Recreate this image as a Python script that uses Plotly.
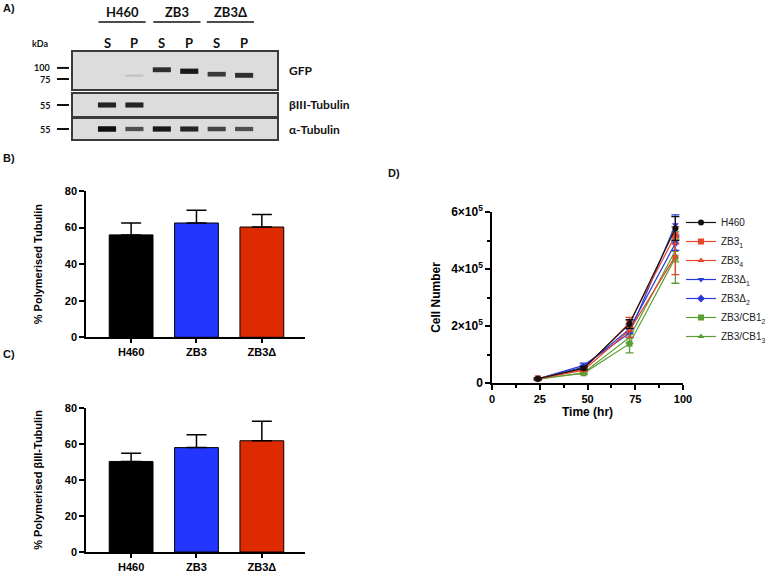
import plotly.graph_objects as go

W, H = 765, 572

# ---------------- data ----------------
# Panel A (western blot, band intensities per lane)
lane_idx = [0, 1, 2, 3, 4, 5]
lane_labels = ["S", "P", "S", "P", "S", "P"]
blot_groups = ["H460", "ZB3", "ZB3Δ"]
blot_group_centers = [0.55, 2.55, 4.5]
gfp_intensity = [0.0, 0.15, 0.85, 0.95, 0.8, 0.85]
gfp_band_pos = [0.38, 0.36, 0.52, 0.48, 0.40, 0.37]
beta3_intensity = [0.9, 0.9, 0.0, 0.0, 0.0, 0.0]
alpha_intensity = [1.0, 0.7, 0.95, 0.9, 0.75, 0.7]
blot_names = ["GFP", "βIII-Tubulin", "α-Tubulin"]

# Panel B / C
bar_cats = ["H460", "ZB3", "ZB3Δ"]
poly_tub = [56.0, 62.5, 60.3]
poly_tub_err = [6.5, 7.0, 6.8]
poly_b3 = [50.3, 58.0, 61.8]
poly_b3_err = [4.5, 7.2, 10.9]
bar_colors = ["#000000", "#2236ff", "#dd2a00"]

# Panel D
time_hr = [24, 48, 72, 96]
growth = {
    "H460": [1.5e4, 5.2e4, 2.07e5, 5.42e5],
    "ZB3<sub>1</sub>": [1.6e4, 4.8e4, 2.12e5, 5.18e5],
    "ZB3<sub>4</sub>": [1.4e4, 4.5e4, 1.85e5, 4.45e5],
    "ZB3Δ<sub>1</sub>": [1.5e4, 6.2e4, 1.75e5, 5.55e5],
    "ZB3Δ<sub>2</sub>": [1.5e4, 5.6e4, 1.9e5, 4.9e5],
    "ZB3/CB1<sub>2</sub>": [1.5e4, 3.4e4, 1.38e5, 4.4e5],
    "ZB3/CB1<sub>3</sub>": [1.3e4, 3.6e4, 1.6e5, 4.65e5],
}
growth_err = {
    "H460": [3e3, 5e3, 1.5e4, 4.2e4],
    "ZB3<sub>1</sub>": [3e3, 4e3, 1.8e4, 3e4],
    "ZB3<sub>4</sub>": [3e3, 4e3, 2.5e4, 6.5e4],
    "ZB3Δ<sub>1</sub>": [3e3, 8e3, 1.5e4, 3.5e4],
    "ZB3Δ<sub>2</sub>": [3e3, 5e3, 1.5e4, 2.5e4],
    "ZB3/CB1<sub>2</sub>": [3e3, 4e3, 3.2e4, 9e4],
    "ZB3/CB1<sub>3</sub>": [3e3, 4e3, 2e4, 4e4],
}
growth_style = {
    "H460": ("#111111", "circle"),
    "ZB3<sub>1</sub>": ("#e8452a", "square"),
    "ZB3<sub>4</sub>": ("#e8452a", "triangle-up"),
    "ZB3Δ<sub>1</sub>": ("#2a3ad8", "triangle-down"),
    "ZB3Δ<sub>2</sub>": ("#2a3ad8", "diamond"),
    "ZB3/CB1<sub>2</sub>": ("#5c9e33", "square"),
    "ZB3/CB1<sub>3</sub>": ("#5c9e33", "triangle-up"),
}
d_yticks = [0, 2e5, 4e5, 6e5]
d_yticktext = ["0", "2×10<sup>5</sup>", "4×10<sup>5</sup>", "6×10<sup>5</sup>"]

# ---------------- helpers ----------------
def px_x(p):
    return p / W

def px_y(p):
    return 1 - p / H

ARIAL = "Liberation Sans, Arial, sans-serif"
BLOTF = "Lato, Open Sans, sans-serif"

fig = go.Figure()

def note(text, x, y, xref="paper", yref="paper", xanchor="center", size=11, family=ARIAL):
    fig.add_annotation(text=text, xref=xref, yref=yref, x=x, y=y, xanchor=xanchor,
                       yanchor="middle", showarrow=False,
                       font=dict(family=family, size=size, color="#111"))

# ---------------- Panel A: blot ----------------
blot_x_dom = [px_x(73), px_x(277)]
blot_y_px = [(52, 89), (94, 116), (119, 139)]
blot_axes = [("x4", "y4"), ("x5", "y5"), ("x6", "y6")]
blot_data = [
    (gfp_intensity, gfp_band_pos),
    (beta3_intensity, [0.5] * 6),
    (alpha_intensity, [0.5] * 6),
]
for (xa, ya), (inten, pos) in zip(blot_axes, blot_data):
    for li, it, yp in zip(lane_idx, inten, pos):
        if it <= 0:
            continue
        shade = int(225 - 210 * it)
        fig.add_trace(go.Scatter(
            x=[li - 0.33, li + 0.33], y=[yp, yp], mode="lines",
            line=dict(color=f"rgb({shade},{shade},{shade})", width=1.5 + 4.0 * it),
            xaxis=xa, yaxis=ya, showlegend=False, hoverinfo="skip"))

for k, (xa, ya) in enumerate(blot_axes):
    n = str(k + 4)
    top, bot = blot_y_px[k]
    fig.update_layout(**{
        f"xaxis{n}": dict(domain=blot_x_dom, range=[-1.24, 6.2], anchor=ya, automargin=False,
                          showticklabels=False, ticks="", showgrid=False, zeroline=False,
                          showline=True, mirror=True, linecolor="#3a3a3a", linewidth=1.5),
        f"yaxis{n}": dict(domain=[px_y(bot), px_y(top)], range=[0, 1], anchor=xa, automargin=False,
                          showticklabels=False, ticks="", showgrid=False, zeroline=False,
                          showline=True, mirror=True, linecolor="#3a3a3a", linewidth=1.5),
    })
    fig.add_shape(type="rect", xref=f"{xa} domain", yref=f"{ya} domain",
                  x0=0, x1=1, y0=0, y1=1, fillcolor="#dcdcdc", line_width=0, layer="below")
    note(f"<b>{blot_names[k]}</b>", px_x(287), px_y((top + bot) / 2), xanchor="left",
         size=12, family=BLOTF)

# lane labels / group labels
for li, lab in zip(lane_idx, lane_labels):
    note(f"<b>{lab}</b>", li, px_y(43), xref="x4", size=13, family=BLOTF)
for gc, g in zip(blot_group_centers, blot_groups):
    note(f"<b>{g}</b>", gc, px_y(12), xref="x4", size=13, family=BLOTF)
    fig.add_shape(type="line", xref="x4", yref="paper", x0=gc - 0.86, x1=gc + 0.86,
                  y0=px_y(22), y1=px_y(22), line=dict(color="#111", width=1.5))

# kDa markers
note("<b>kDa</b>", px_x(40), px_y(43), size=9, family=BLOTF)
kda_marks = [("100", "y4", 0.57), ("75", "y4", 0.27), ("55", "y5", 0.5), ("55", "y6", 0.5)]
for lab, ya, yv in kda_marks:
    fig.add_shape(type="line", xref="paper", yref=ya, x0=px_x(57), x1=px_x(69), y0=yv, y1=yv,
                  line=dict(color="#111", width=2))
    note(f"<b>{lab}</b>", px_x(52), yv, yref=ya, xanchor="right", size=9, family=BLOTF)

# ---------------- Panels B & C ----------------
bar_sets = [
    ("x", "y", poly_tub, poly_tub_err, (191, 337.3), "% Polymerised Tubulin"),
    ("x2", "y2", poly_b3, poly_b3_err, (408, 552), "% Polymerised βIII-Tubulin"),
]
for i, (xa, ya, vals, errs, (ytop, ybot), ttl) in enumerate(bar_sets):
    fig.add_trace(go.Bar(
        x=bar_cats, y=vals, marker=dict(color=bar_colors, line=dict(color="#000", width=1)),
        width=0.67, error_y=dict(type="data", array=errs, arrayminus=[0] * 3, symmetric=False,
                                 color="#000", thickness=1.5, width=10),
        xaxis=xa, yaxis=ya, showlegend=False, hoverinfo="skip"))
    n = "" if i == 0 else "2"
    fig.update_layout(**{
        f"xaxis{n}": dict(domain=[px_x(86), px_x(305)], range=[-0.69, 2.66], anchor=ya,
                          automargin=False, type="category",
                          showline=True, linecolor="#000", linewidth=1.5, ticks="outside",
                          ticklen=4, tickwidth=1.5, tickcolor="#000",
                          tickfont=dict(family=ARIAL, size=11, color="#000", weight="bold"),
                          showgrid=False, zeroline=False),
        f"yaxis{n}": dict(domain=[px_y(ybot), px_y(ytop)], range=[0, 80], anchor=xa,
                          automargin=False,
                          tickvals=[0, 20, 40, 60, 80], showline=True, linecolor="#000",
                          linewidth=1.5, ticks="outside", ticklen=5, tickwidth=1.5,
                          tickcolor="#000", showgrid=False, zeroline=False,
                          tickfont=dict(family=ARIAL, size=11, color="#000", weight="bold"),
                          title=dict(text=ttl, standoff=20,
                                     font=dict(family=ARIAL, size=11, color="#000", weight="bold"))),
    })

# ---------------- Panel D ----------------
names = list(growth.keys())
for rank, nm in reversed(list(enumerate(names))):
    col, sym = growth_style[nm]
    fig.add_trace(go.Scatter(
        x=time_hr, y=growth[nm], name=nm, mode="lines+markers",
        line=dict(color=col, width=1.2), marker=dict(color=col, symbol=sym, size=6),
        error_y=dict(type="data", array=growth_err[nm], color=col, thickness=1.3, width=4),
        xaxis="x3", yaxis="y3", legendrank=rank + 1, cliponaxis=False))

fig.update_layout(
    xaxis3=dict(domain=[px_x(492), px_x(683)], range=[0, 100], anchor="y3", automargin=False,
                tickvals=[0, 25, 50, 75, 100], showline=True, linecolor="#000", linewidth=1.5,
                ticks="outside", ticklen=5, tickwidth=1.5, tickcolor="#000",
                minor=dict(dtick=12.5, tick0=0, ticks="outside", ticklen=3, tickwidth=1.5, tickcolor="#000"),
                tickfont=dict(family=ARIAL, size=11, color="#000", weight="bold"),
                showgrid=False, zeroline=False,
                title=dict(text="Time (hr)", standoff=4,
                           font=dict(family=ARIAL, size=12, color="#000", weight="bold"))),
    yaxis3=dict(domain=[px_y(383), px_y(212)], range=[0, 6e5], anchor="x3", automargin=False,
                tickvals=d_yticks, ticktext=d_yticktext, showline=True, linecolor="#000",
                linewidth=1.5, ticks="outside", ticklen=5, tickwidth=1.5, tickcolor="#000",
                minor=dict(dtick=1e5, tick0=0, ticks="outside", ticklen=3, tickwidth=1.5, tickcolor="#000"),
                tickfont=dict(family=ARIAL, size=12, color="#000", weight="bold"),
                showgrid=False, zeroline=False,
                title=dict(text="Cell Number", standoff=8,
                           font=dict(family=ARIAL, size=12, color="#000", weight="bold"))),
    legend=dict(x=px_x(681), y=px_y(208), xanchor="left", yanchor="top",
                font=dict(family=ARIAL, size=10, color="#222"), itemwidth=30,
                tracegroupgap=0, bgcolor="rgba(0,0,0,0)"),
)

# panel letters
for lab, xp, yp in [("A)", 9, 8), ("B)", 9, 158), ("C)", 9, 354), ("D)", 394, 173)]:
    note(f"<b>{lab}</b>", px_x(xp), px_y(yp), size=11)

fig.update_layout(template="none", width=W, height=H,
                  margin=dict(l=0, r=0, t=0, b=0, autoexpand=False),
                  paper_bgcolor="white", plot_bgcolor="white", bargap=0.33)

fig.write_html("out.html", config={"displayModeBar": False},
               post_script="document.body.style.margin='0';")
